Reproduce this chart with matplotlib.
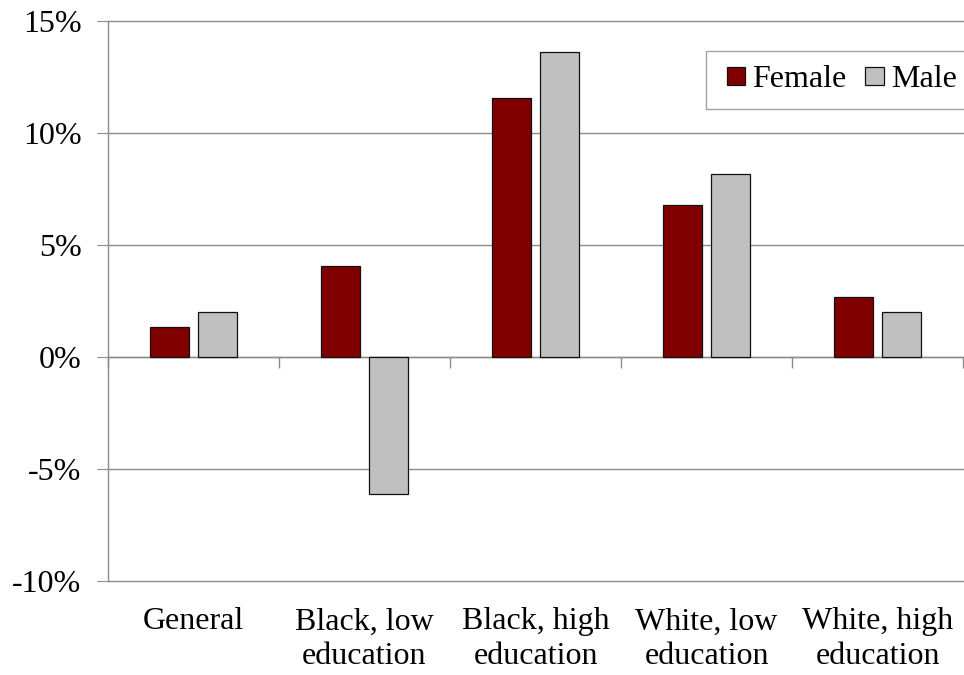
import matplotlib
matplotlib.use("Agg")
import matplotlib.pyplot as plt
import numpy as np
from matplotlib.ticker import FuncFormatter
from matplotlib.patches import Rectangle
from matplotlib.legend_handler import HandlerPatch

categories = ["General", "Black, low\neducation", "Black, high\neducation",
              "White, low\neducation", "White, high\neducation"]
female = [1.35, 4.05, 11.55, 6.8, 2.7]
male = [2.0, -6.1, 13.6, 8.15, 2.0]
series_names = ["Female", "Male"]
yticks = [-10, -5, 0, 5, 10, 15]

plt.rcParams['font.family'] = ['Liberation Serif', 'DejaVu Serif']

fig = plt.figure(figsize=(9.64, 6.75), dpi=100)
ax = fig.add_axes([0.112, 0.1393, 0.887, 0.8296])

x = np.arange(len(categories))
w = 0.228
off = 0.143
b1 = ax.bar(x - off, female, w, color='#800000', edgecolor='#111111', linewidth=0.9,
            label=series_names[0], zorder=3)
b2 = ax.bar(x + off, male, w, color='#c0c0c0', edgecolor='#111111', linewidth=0.9,
            label=series_names[1], zorder=3)

ax.set_xlim(-0.5, len(categories) - 0.5)
ax.set_ylim(-10, 15)
ax.set_yticks(yticks)
ax.yaxis.set_major_formatter(FuncFormatter(lambda v, p: f"{v:.0f}%"))
ax.yaxis.grid(True, color='#8c8c8c', linewidth=1.0, zorder=0)
for gl in ax.get_ygridlines():
    gl.set_clip_on(False)
ax.set_axisbelow(True)

for s in ['top', 'right', 'bottom']:
    ax.spines[s].set_visible(False)
ax.spines['left'].set_color('#8c8c8c')
ax.spines['left'].set_linewidth(1.0)
ax.tick_params(axis='y', direction='out', length=8, color='#8c8c8c',
               labelsize=23, pad=11)

ax.set_xticks(x)
ax.set_xticklabels(categories, fontsize=23, linespacing=1.25)
ax.tick_params(axis='x', length=0, pad=19)

sec = ax.secondary_xaxis(0.4)
sec.set_xticks(np.arange(-0.5, len(categories), 1.0))
sec.set_xticklabels([])
sec.tick_params(axis='x', direction='out', length=8, color='#8c8c8c', width=1.0)
sec.spines['bottom'].set_color('#8c8c8c')
sec.spines['bottom'].set_linewidth(1.0)


def square(legend, orig_handle, xdescent, ydescent, width, height, fontsize):
    return Rectangle((-xdescent + width - height, -ydescent), height, height)


leg = ax.legend(handles=[b1.patches[0], b2.patches[0]], labels=series_names,
                handler_map={Rectangle: HandlerPatch(patch_func=square)},
                loc='upper left', bbox_to_anchor=(0.6994, 0.9464), ncol=2,
                fontsize=23, frameon=True, fancybox=False, edgecolor='#8c8c8c',
                handlelength=0.78, handleheight=0.5, handletextpad=0.22,
                columnspacing=0.38, borderpad=0.45, borderaxespad=0.0)
leg.get_frame().set_linewidth(1.0)

fig.savefig("out.png", dpi=100)
